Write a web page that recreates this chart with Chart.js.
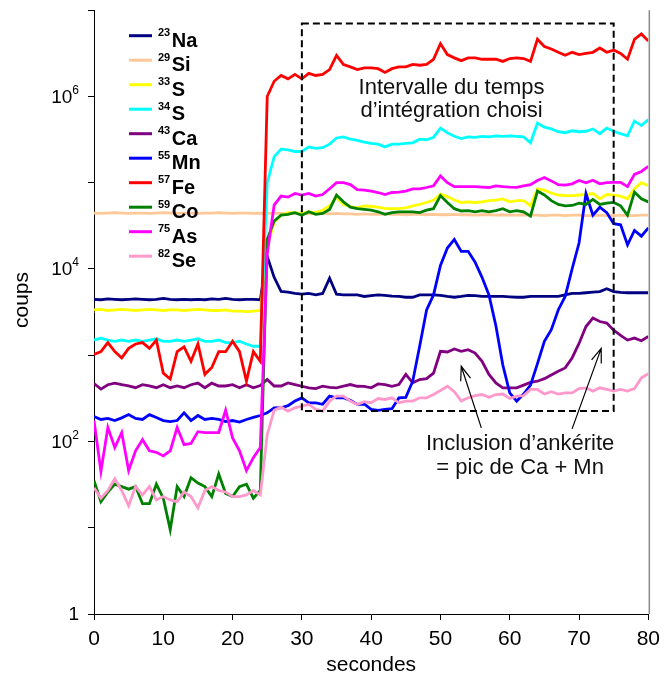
<!DOCTYPE html>
<html>
<head>
<meta charset="utf-8">
<script src="https://cdn.jsdelivr.net/npm/chart.js@4/dist/chart.umd.min.js"></script>
<style>
  html, body { margin: 0; padding: 0; background: #fff; }
  #wrap { width: 667px; height: 682px; }
</style>
</head>
<body>
<div id="wrap"><canvas id="chart" width="667" height="682"></canvas></div>
<script>
// temps (s)
const seconds = [0, 1, 2, 3, 4, 5, 6, 7, 8, 9, 10, 11, 12, 13, 14, 15, 16, 17, 18, 19, 20,
  21, 22, 23, 24, 25, 26, 27, 28, 29, 30, 31, 32, 33, 34, 35, 36, 37, 38, 39, 40,
  41, 42, 43, 44, 45, 46, 47, 48, 49, 50, 51, 52, 53, 54, 55, 56, 57, 58, 59, 60,
  61, 62, 63, 64, 65, 66, 67, 68, 69, 70, 71, 72, 73, 74, 75, 76, 77, 78, 79, 80];

const masses = ["23", "29", "33", "34", "43", "55", "57", "59", "75", "82"];
const elements = ["Na", "Si", "S", "S", "Ca", "Mn", "Fe", "Co", "As", "Se"];
const colors = ["#000080", "#ffc896", "#ffff00", "#00ffff", "#800080", "#0000ff", "#ff0000", "#008000", "#ff00ff", "#ff99cc"];

const na23 = [4450, 4400, 4500, 4450, 4400, 4450, 4500, 4450, 4400, 4450, 4550, 4450, 4400, 4450, 4400, 4450, 4400, 4500, 4450, 4550, 4450, 4400, 4450, 4450, 4400,
  14000, 8000, 5500, 5400, 5200, 5100, 5200, 5000, 5200, 7800, 5100, 5000, 5000, 5000, 4800, 4900, 5000, 4950, 4850, 4800, 4700, 4700, 5000, 5000, 5000, 4950,
  4800, 4700, 4800, 4950, 4900, 4800, 4800, 4800, 4800, 4750, 4700, 4700, 4800, 4800, 4800, 4800, 4800, 5000, 5200, 5200, 5300, 5400, 5460, 5900, 5460, 5350,
  5300, 5300, 5300, 5300];
const si29 = [44500, 44000, 44500, 45000, 44500, 44000, 44500, 44500, 44000, 44500, 45000, 44500, 44000, 44500, 44500, 44000, 44500, 44500, 45000, 44500, 44000, 44500, 44500, 44000, 44500,
  44000, 44500, 44000, 43500, 44000, 44000, 43500, 44000, 44000, 43500, 44000, 43500, 43500, 43000, 43500, 43000, 43000, 43500, 43000, 43000, 42500, 43000,
  43000, 42500, 43000, 42500, 42500, 43000, 42500, 42500, 42000, 42500, 42500, 42000, 42500, 42000, 42000, 42500, 42000, 42000, 41500, 42000, 42000, 41500,
  42000, 42000, 41500, 41500, 42000, 41500, 41500, 42000, 41500, 41500, 42000, 42000];
const s33 = [3350, 3400, 3300, 3350, 3400, 3350, 3300, 3350, 3400, 3350, 3300, 3350, 3350, 3300, 3350, 3400, 3350, 3300, 3300, 3350, 3250, 3250, 3200, 3250, 3300,
  18000, 35000, 42000, 45000, 45000, 44000, 46000, 45000, 48000, 54000, 68000, 56000, 53000, 51000, 54000, 53000, 52000, 50000, 50000, 50000, 51000, 54000,
  56000, 59000, 63000, 74000, 69000, 63000, 59000, 60000, 59000, 60000, 62000, 63000, 65000, 60000, 62000, 62000, 54000, 85000, 82000, 76000, 72000, 71000,
  71000, 72000, 73000, 75000, 65000, 73000, 72000, 70000, 65000, 85000, 100000, 92000];
const s34 = [1500, 1580, 1500, 1450, 1500, 1450, 1500, 1450, 1500, 1550, 1450, 1450, 1500, 1450, 1500, 1550, 1450, 1450, 1500, 1400, 1400, 1450, 1350, 1270, 1270,
  100000, 200000, 245000, 240000, 230000, 230000, 260000, 250000, 255000, 280000, 330000, 340000, 320000, 310000, 295000, 285000, 280000, 260000, 280000,
  280000, 285000, 290000, 320000, 315000, 335000, 430000, 380000, 345000, 325000, 340000, 335000, 345000, 340000, 350000, 345000, 350000, 345000, 340000,
  290000, 490000, 440000, 420000, 390000, 380000, 400000, 390000, 395000, 420000, 370000, 430000, 395000, 370000, 350000, 520000, 460000, 540000];
const ca43 = [470, 405, 455, 475, 455, 440, 420, 455, 440, 420, 455, 420, 440, 420, 455, 475, 420, 475, 440, 440, 455, 420, 455, 420, 445,
  525, 440, 440, 478, 457, 437, 419, 410, 437, 425, 419, 437, 457, 437, 435, 419, 465, 457, 437, 457, 600, 478, 523, 535, 620, 1109, 1090, 1180, 1109, 1159,
  1061, 850, 600, 478, 419, 419, 419, 450, 485, 500, 535, 590, 652, 713, 930, 1370, 2150, 2700, 2460, 2355, 1950, 1700, 1500, 1580, 1470, 1650];
const mn55 = [195, 180, 185, 175, 188, 205, 185, 180, 205, 190, 175, 170, 175, 215, 175, 200, 180, 185, 180, 170, 175, 168, 180, 190, 200,
  215, 245, 246, 260, 294, 320, 280, 280, 270, 336, 321, 321, 300, 269, 272, 236, 230, 236, 240, 320, 325, 500, 1270, 3350, 5000, 11000, 17500, 22000,
  16000, 16000, 12000, 8000, 5000, 2200, 770, 366, 294, 355, 450, 800, 1450, 1980, 3350, 4800, 10000, 20000, 75000, 42000, 52000, 45000, 33500, 32500,
  19000, 28000, 24000, 30000];
const fe57 = [1020, 1100, 1400, 1100, 930, 1200, 1350, 1400, 1200, 1500, 620, 530, 1100, 1250, 850, 1350, 600, 720, 1100, 1100, 1450, 1100, 500, 1100, 850,
  1000000, 1500000, 1750000, 1600000, 1800000, 1600000, 1850000, 1750000, 1800000, 2050000, 3000000, 2350000, 2200000, 2050000, 2150000, 2150000, 2100000,
  1900000, 2100000, 2200000, 2200000, 2350000, 2300000, 2350000, 2700000, 4100000, 3060000, 2800000, 2600000, 2800000, 2800000, 2700000, 2700000, 2700000,
  2550000, 2750000, 2800000, 2750000, 2550000, 4600000, 3800000, 3550000, 3250000, 3000000, 3250000, 3050000, 3150000, 3250000, 3650000, 3250000, 3450000,
  3150000, 2700000, 4600000, 5300000, 4400000];
const co59 = [35, 20, 26, 32, 30, 28, 30, 19, 19, 32, 22, 9.5, 30, 23, 38, 33, 30, 23, 42, 25, 23, 30, 32, 22, 27,
  22000, 36000, 42000, 43000, 45000, 42000, 46000, 43000, 44000, 49000, 72000, 60000, 52000, 50000, 49000, 48000, 46000, 43000, 45000, 46000, 46000, 46000,
  45000, 48000, 50000, 71000, 59000, 50000, 47000, 47500, 46000, 47500, 46000, 47500, 50000, 46000, 47500, 46000, 41000, 80000, 72000, 62000, 56000, 54000,
  54500, 58000, 56000, 64000, 56000, 58000, 59000, 54000, 42000, 78000, 65000, 60000];
const as75 = [175, 45, 145, 85, 127, 46, 78, 105, 78, 75, 68, 78, 145, 92, 95, 130, 127, 127, 127, 230, 110, 78, 46, 65, 85,
  15000, 55000, 70000, 68000, 75000, 72000, 75000, 70000, 73000, 85000, 100000, 100000, 95000, 83000, 82000, 80000, 77000, 73000, 77000, 78000, 80000, 85000,
  85000, 88000, 92000, 120000, 100000, 90000, 90000, 90000, 90000, 89000, 88000, 92000, 90000, 89000, 88500, 92000, 95000, 106000, 115000, 105000, 95000,
  94000, 97000, 106000, 100000, 107000, 97000, 100000, 101000, 101000, 90000, 125000, 135000, 155000];
const se82 = [29, 22, 27, 37, 27, 18, 30, 24, 30, 21, 23, 21, 20, 26, 23, 17, 27, 30, 27, 26, 23, 23, 24, 27, 24,
  120, 230, 250, 225, 246, 257, 269, 236, 225, 294, 336, 336, 294, 269, 290, 281, 315, 307, 321, 281, 294, 294, 321, 321, 350, 390, 437, 377, 294, 321, 340,
  350, 325, 350, 355, 315, 336, 340, 401, 401, 355, 377, 355, 366, 366, 410, 419, 384, 419, 401, 384, 401, 384, 410, 546, 610];

const series = [na23, si29, s33, s34, ca43, mn55, fe57, co59, as75, se82];

const xTicks = [0, 10, 20, 30, 40, 50, 60, 70, 80];
const yDecades = [1, 10, 100, 1000, 10000, 100000, 1000000, 10000000];
const yLabelled = [[1, "1", ""], [100, "10", "2"], [10000, "10", "4"], [1000000, "10", "6"]];
const yTitle = "coups";

// intervalle d'intégration [s0, s1, bas, haut]
const intervalBox = [30, 75, 225, 7000000];
const intervalText = ["Intervalle du temps", "d\u2019int\u00e9gration choisi"];
const intervalTextAt = [51.6, 1250000];
const inclusionText = ["Inclusion d\u2019ank\u00e9rite", "= pic de Ca + Mn"];
const inclusionTextAt = [61.5, 94];
// flèches [x queue, y queue, x pointe, y pointe]
const arrows = [[55.9, 144, 53.0, 745], [69.0, 140, 73.2, 1200]];

const FONT = "'Liberation Sans', Arial, Helvetica, sans-serif";
Chart.defaults.font.family = FONT;
Chart.defaults.color = "#000";

const overlay = {
  id: "overlay",
  afterDatasetsDraw(chart) {
    const { ctx, chartArea: a, scales: { x, y } } = chart;
    ctx.save();

    // cadre droit gris
    ctx.strokeStyle = "#8a8a8a";
    ctx.lineWidth = 1.5;
    ctx.beginPath();
    ctx.moveTo(a.right + 1, a.top);
    ctx.lineTo(a.right + 1, a.bottom);
    ctx.stroke();

    // étiquettes de l'axe y avec exposant
    ctx.fillStyle = "#000";
    ctx.textBaseline = "middle";
    yLabelled.forEach(([v, base, exp]) => {
      const py = y.getPixelForValue(v);
      ctx.font = "12px " + FONT;
      const ew = exp ? ctx.measureText(exp).width : 0;
      const right = 79;
      if (exp) {
        ctx.textAlign = "right";
        ctx.fillText(exp, right, py - 6);
      }
      ctx.font = "19px " + FONT;
      ctx.textAlign = "right";
      ctx.fillText(base, right - ew, py + 1);
    });

    // titre de l'axe y
    ctx.save();
    ctx.translate(22, 300);
    ctx.rotate(-Math.PI / 2);
    ctx.font = "21px " + FONT;
    ctx.textAlign = "center";
    ctx.fillText(yTitle, 0, 0);
    ctx.restore();

    // rectangle pointillé
    const bx0 = x.getPixelForValue(intervalBox[0]);
    const bx1 = x.getPixelForValue(intervalBox[1]);
    const by0 = y.getPixelForValue(intervalBox[2]);
    const by1 = y.getPixelForValue(intervalBox[3]);
    ctx.strokeStyle = "#000";
    ctx.lineWidth = 2;
    ctx.setLineDash([7, 4]);
    ctx.strokeRect(bx0, by1, bx1 - bx0, by0 - by1);
    ctx.setLineDash([]);

    // textes
    ctx.font = "22px " + FONT;
    ctx.fillStyle = "#111";
    ctx.textAlign = "center";
    ctx.textBaseline = "middle";
    let tx = x.getPixelForValue(intervalTextAt[0]);
    let ty = y.getPixelForValue(intervalTextAt[1]);
    ctx.fillText(intervalText[0], tx, ty);
    ctx.fillText(intervalText[1], tx, ty + 23);
    tx = x.getPixelForValue(inclusionTextAt[0]);
    ty = y.getPixelForValue(inclusionTextAt[1]);
    ctx.fillText(inclusionText[0], tx, ty);
    ctx.fillText(inclusionText[1], tx, ty + 24);

    // flèches
    ctx.lineWidth = 1.2;
    arrows.forEach(([x0, y0, x1, y1]) => {
      const p0 = [x.getPixelForValue(x0), y.getPixelForValue(y0)];
      const p1 = [x.getPixelForValue(x1), y.getPixelForValue(y1)];
      const ang = Math.atan2(p1[1] - p0[1], p1[0] - p0[0]);
      ctx.beginPath();
      ctx.moveTo(p0[0], p0[1]);
      ctx.lineTo(p1[0], p1[1]);
      ctx.moveTo(p1[0] - 15 * Math.cos(ang - 0.35), p1[1] - 15 * Math.sin(ang - 0.35));
      ctx.lineTo(p1[0], p1[1]);
      ctx.lineTo(p1[0] - 15 * Math.cos(ang + 0.35), p1[1] - 15 * Math.sin(ang + 0.35));
      ctx.stroke();
    });

    // légende
    ctx.textAlign = "left";
    ctx.textBaseline = "alphabetic";
    chart.data.datasets.forEach((ds, i) => {
      const ly = 35.7 + 24.5 * i;
      ctx.strokeStyle = ds.borderColor;
      ctx.lineWidth = 3;
      ctx.beginPath();
      ctx.moveTo(129, ly);
      ctx.lineTo(152, ly);
      ctx.stroke();
      ctx.fillStyle = "#000";
      ctx.font = "bold 11px " + FONT;
      ctx.fillText(masses[i], 158, ly + 0.5);
      const mw = ctx.measureText(masses[i]).width;
      ctx.font = "bold 20px " + FONT;
      ctx.fillText(elements[i], 158 + mw + 1.5, ly + 11);
    });

    ctx.restore();
  }
};

new Chart(document.getElementById("chart"), {
  type: "line",
  data: {
    datasets: series.map((vals, i) => ({
      label: masses[i] + elements[i],
      data: seconds.map((t, k) => ({ x: t, y: vals[k] })),
      borderColor: colors[i],
      backgroundColor: colors[i],
      borderWidth: 2.8,
      pointRadius: 0,
      tension: 0,
      order: series.length - i
    }))
  },
  options: {
    responsive: false,
    animation: false,
    devicePixelRatio: 1,
    layout: { padding: { left: 0, top: 7, right: 18, bottom: 0 } },
    plugins: { legend: { display: false }, tooltip: { enabled: false } },
    scales: {
      x: {
        type: "linear",
        min: 0,
        max: 80,
        afterBuildTicks: (s) => { s.ticks = xTicks.map(v => ({ value: v })); },
        afterFit: (s) => { s.height = 68; },
        ticks: { font: { size: 21 }, padding: 7, maxRotation: 0 },
        grid: { drawOnChartArea: false, drawTicks: true, tickLength: 6, color: "#000" },
        border: { color: "#000", width: 1 },
        title: { display: true, text: "secondes", font: { size: 21 }, padding: { top: 0 } }
      },
      y: {
        type: "logarithmic",
        min: 1,
        max: 10000000,
        afterBuildTicks: (s) => { s.ticks = yDecades.map(v => ({ value: v })); },
        afterFit: (s) => { s.width = 94; },
        ticks: { callback: () => "" },
        grid: { drawOnChartArea: false, drawTicks: true, tickLength: 6, color: "#000" },
        border: { color: "#000", width: 1 },
        title: { display: false }
      }
    }
  },
  plugins: [overlay]
});
</script>
</body>
</html>
